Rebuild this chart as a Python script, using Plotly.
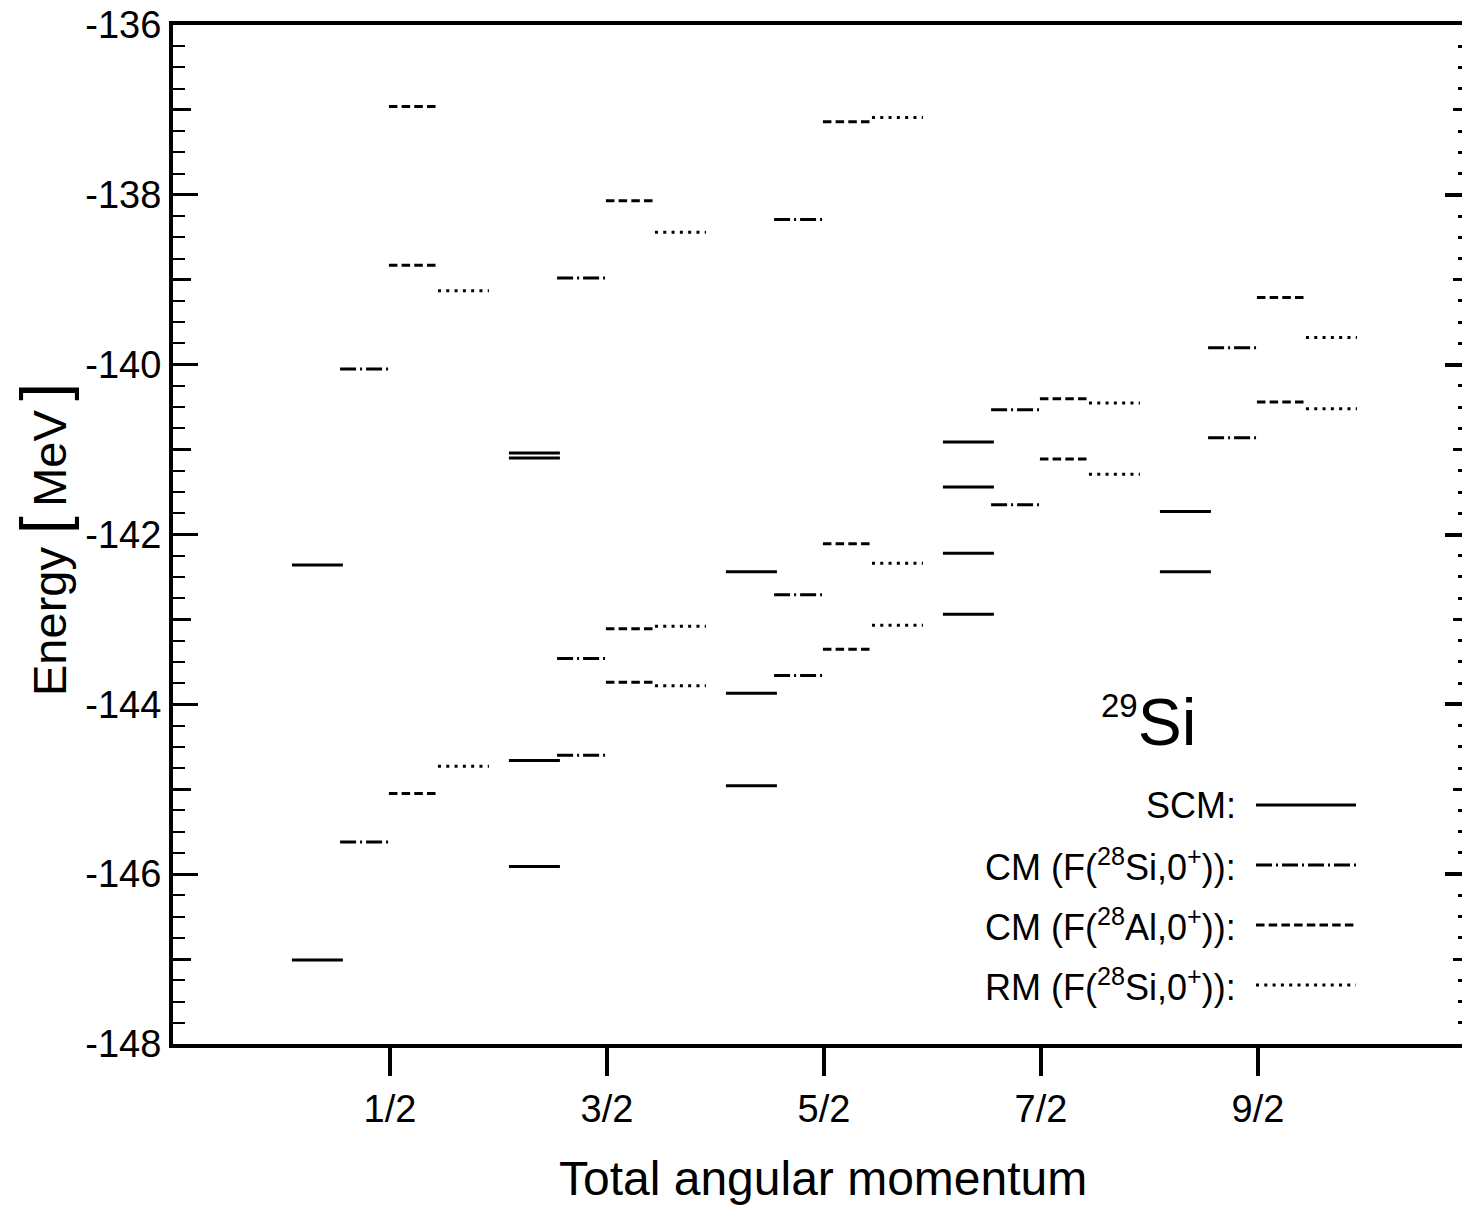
import plotly.graph_objects as go

# ---------------- data ----------------
J_labels = ['1/2', '3/2', '5/2', '7/2', '9/2']
J_pos = [1, 2, 3, 4, 5]

scm = [[-142.36, -147.01],
       [-141.04, -141.10, -144.66, -145.91],
       [-142.44, -143.87, -144.96],
       [-140.91, -141.44, -142.22, -142.94],
       [-141.73, -142.44]]
cm_si = [[-140.05, -145.62],
         [-138.98, -143.46, -144.60],
         [-138.29, -142.71, -143.66],
         [-140.53, -141.65],
         [-139.80, -140.86]]
cm_al = [[-136.96, -138.83, -145.05],
         [-138.07, -143.11, -143.74],
         [-137.14, -142.11, -143.35],
         [-140.40, -141.11],
         [-139.21, -140.44]]
rm_si = [[-139.13, -144.73],
         [-138.44, -143.08, -143.78],
         [-137.09, -142.34, -143.07],
         [-140.45, -141.29],
         [-139.68, -140.52]]

y_ticks = [-148, -146, -144, -142, -140, -138, -136]
y_mid_ticks = [-147, -145, -143, -141, -139, -137]

# ---------------- layout constants ----------------
W, H = 1462, 1205
L, T, B = 173, 25, 161
PX_PER_UNIT = 217.0
plot_w = W - L
plot_h = H - T - B
x_max = plot_w / PX_PER_UNIT
FONT = "Liberation Sans, Arial, sans-serif"

DASH = {
    'solid': 'solid',
    'dashdot': '16px,4px,2px,4px',
    'dash': '8.5px,4.2px',
    'dot': '3px,5.3px',
}

series = [
    ('SCM', scm, (-0.452, -0.217), 'solid'),
    ('CM Si', cm_si, (-0.230, -0.009), 'dashdot'),
    ('CM Al', cm_al, (-0.005, 0.217), 'dash'),
    ('RM Si', rm_si, (0.221, 0.456), 'dot'),
]

fig = go.Figure()
for name, vals, (a, b), dash in series:
    xs, ys = [], []
    for k, levels in zip(J_pos, vals):
        for e in levels:
            xs += [k + a, k + b, None]
            ys += [e, e, None]
    fig.add_trace(go.Scatter(x=xs, y=ys, mode='lines', name=name,
                             line=dict(color='black', width=3, dash=DASH[dash]),
                             showlegend=False, hoverinfo='skip'))

# dummy traces for overlay tick axes
for ax in ['y2', 'y3', 'y4']:
    fig.add_trace(go.Scatter(x=[None], y=[None], yaxis=ax, showlegend=False, hoverinfo='skip'))

yr = [-148, -136]
fig.update_layout(
    width=W, height=H,
    margin=dict(l=L, r=0, t=T, b=B),
    paper_bgcolor='white', plot_bgcolor='white',
    font=dict(family=FONT, color='black', size=38),
    xaxis=dict(range=[0, x_max], tickmode='array', tickvals=J_pos, ticktext=J_labels,
               ticks='outside', ticklen=28, tickwidth=4, tickcolor='black',
               showline=True, linewidth=4, linecolor='black', mirror=True,
               showgrid=False, zeroline=False, tickfont=dict(size=38),
               ticklabelstandoff=0),
    yaxis=dict(range=yr, tickmode='array', tickvals=y_ticks, ticktext=[str(v) for v in y_ticks],
               ticks='inside', ticklen=25, tickwidth=3, tickcolor='black',
               minor=dict(tickmode='linear', tick0=-148, dtick=0.25, ticks='inside',
                          ticklen=12, tickwidth=2, tickcolor='black'),
               showline=True, linewidth=4, linecolor='black',
               showgrid=False, zeroline=False, tickfont=dict(size=38),
               ticklabelstandoff=0),
    yaxis2=dict(range=yr, overlaying='y', side='right', anchor='x',
                tickmode='array', tickvals=y_ticks, showticklabels=False,
                ticks='inside', ticklen=17, tickwidth=4, tickcolor='black',
                minor=dict(tickmode='linear', tick0=-148, dtick=0.25, ticks='inside',
                           ticklen=4, tickwidth=3, tickcolor='black'),
                showline=False, showgrid=False, zeroline=False),
    yaxis3=dict(range=yr, overlaying='y', side='left', anchor='x',
                tickmode='array', tickvals=y_mid_ticks, showticklabels=False,
                ticks='inside', ticklen=18, tickwidth=2.5, tickcolor='black',
                showline=False, showgrid=False, zeroline=False),
    yaxis4=dict(range=yr, overlaying='y', side='right', anchor='x',
                tickmode='array', tickvals=y_mid_ticks, showticklabels=False,
                ticks='inside', ticklen=9, tickwidth=3, tickcolor='black',
                showline=False, showgrid=False, zeroline=False),
)


def px(xp):
    return (xp - L) / plot_w


def py(yp):
    return (H - B - yp) / plot_h


# axis titles
fig.add_annotation(text='Total angular momentum', x=px(823), y=py(1178), xref='paper', yref='paper',
                   showarrow=False, xanchor='center', yanchor='middle', font=dict(size=48))
fig.add_annotation(text="Energy <span style='font-size:64px'>[</span>\u2009MeV\u2009<span style='font-size:64px'>]</span>",
                   x=px(44), y=py(540), xref='paper', yref='paper', textangle=-90,
                   showarrow=False, xanchor='center', yanchor='middle', font=dict(size=47))

# nucleus label
fig.add_annotation(text="<sup><span style='font-size:33px'>29</span></sup>Si", x=px(1148), y=py(722),
                   xref='paper', yref='paper',
                   showarrow=False, xanchor='center', yanchor='middle', font=dict(size=66))

# legend (text right-aligned, sample line to the right)
legend_items = [
    ('SCM:', 'solid', 805),
    ('CM (F(<sup>28</sup>Si,0<sup>+</sup>)):', 'dashdot', 865),
    ('CM (F(<sup>28</sup>Al,0<sup>+</sup>)):', 'dash', 925),
    ('RM (F(<sup>28</sup>Si,0<sup>+</sup>)):', 'dot', 985),
]
for text, dash, yc in legend_items:
    fig.add_annotation(text=text, x=px(1238), y=py(yc), xref='paper', yref='paper',
                       showarrow=False, xanchor='right', yanchor='middle', font=dict(size=36))
    fig.add_shape(type='line', xref='paper', yref='paper', x0=px(1256), x1=px(1356),
                  y0=py(yc), y1=py(yc), line=dict(color='black', width=3, dash=DASH[dash]))

fig.write_html('out.html', config={'displayModeBar': False},
               post_script="document.body.style.margin='0';document.body.style.padding='0';"
                           "document.body.style.overflow='hidden';")
